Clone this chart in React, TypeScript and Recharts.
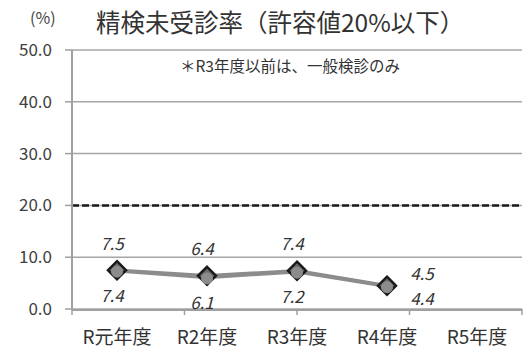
import { ComposedChart, Line, XAxis, YAxis, CartesianGrid, ReferenceLine, LabelList } from "recharts";

const categories = ["R元年度", "R2年度", "R3年度", "R4年度", "R5年度"];
const upperSeries = [7.5, 6.4, 7.4, 4.5, null];
const lowerSeries = [7.4, 6.1, 7.2, 4.4, null];
const yTicks = [0, 10, 20, 30, 40, 50];
const limitValue = 20;

const data = categories.map((name, i) => ({
  name,
  upper: upperSeries[i],
  lower: lowerSeries[i],
}));

const FONT = '"Noto Sans CJK JP", "Noto Sans", sans-serif';

function Diamond(props: any) {
  const { cx, cy, value } = props;
  if (value == null || cx == null) return null;
  const r = 9;
  return (
    <path
      d={`M${cx},${cy - r}L${cx + r},${cy}L${cx},${cy + r}L${cx - r},${cy}Z`}
      fill="#6b6b6b"
      stroke="#1a1a1a"
      strokeWidth={2.5}
    />
  );
}

function GreyDot(props: any) {
  const { cx, cy, value } = props;
  if (value == null || cx == null) return null;
  return <circle cx={cx} cy={cy + 1} r={5.5} fill="#8c8c8c" stroke="#8c8c8c" />;
}

function upperLabel(props: any) {
  const { x, y, value, index } = props;
  if (value == null) return null;
  const last = index === 3;
  return (
    <text
      x={last ? x + 35 : x - 5}
      y={last ? y - 13 : y - 28}
      textAnchor="middle"
      dominantBaseline="central"
      fontStyle="italic"
      fontSize={17}
      fill="#333"
      fontFamily={FONT}
    >
      {value.toFixed(1)}
    </text>
  );
}

function lowerLabel(props: any) {
  const { x, y, value, index } = props;
  if (value == null) return null;
  const last = index === 3;
  return (
    <text
      x={last ? x + 35 : x - 5}
      y={last ? y + 11 : y + 24}
      textAnchor="middle"
      dominantBaseline="central"
      fontStyle="italic"
      fontSize={17}
      fill="#333"
      fontFamily={FONT}
    >
      {value.toFixed(1)}
    </text>
  );
}

export default function App() {
  return (
    <div style={{ position: "absolute", left: 0, top: 0, width: 524, height: 349, background: "#fff", fontFamily: FONT }}>
      <div style={{ position: "absolute", left: 30, top: 5, fontSize: 16, color: "#444" }}>(%)</div>
      <div style={{ position: "absolute", left: 96, top: 4, fontSize: 24.5, lineHeight: "36px", color: "#333", whiteSpace: "nowrap" }}>
        精検未受診率（許容値20%以下）
      </div>
      <div style={{ position: "absolute", left: 180, top: 54, fontSize: 15.5, lineHeight: "22px", color: "#333", whiteSpace: "nowrap" }}>
        ＊R3年度以前は、一般検診のみ
      </div>
      <ComposedChart
        width={524}
        height={349}
        data={data}
        margin={{ top: 50, right: 2, bottom: 0, left: 0 }}
      >
        <CartesianGrid vertical={false} xAxisId="b" stroke="#a6a6a6" strokeWidth={1.5} />
        <XAxis
          xAxisId="a"
          type="number"
          domain={[0, categories.length]}
          ticks={[0, 1, 2, 3, 4, 5]}
          interval={0}
          axisLine={false}
          tickFormatter={() => ""}
          tickLine={{ stroke: "#a0a0a0", strokeWidth: 1.5 }}
          tickSize={6}
          height={1}
        />
        <XAxis
          xAxisId="b"
          dataKey="name"
          scale="band"
          axisLine={{ stroke: "#a0a0a0", strokeWidth: 2 }}
          tickLine={false}
          tick={{ fill: "#333", fontSize: 19, fontFamily: FONT }}
          tickMargin={15}
          height={39}
          interval={0}
        />
        <YAxis
          domain={[0, 50]}
          ticks={yTicks}
          tickFormatter={(v: number) => v.toFixed(1)}
          axisLine={{ stroke: "#a0a0a0", strokeWidth: 2 }}
          tickLine={{ stroke: "#a0a0a0", strokeWidth: 1.5 }}
          tickSize={7}
          tickMargin={13}
          width={72}
          tick={{ fill: "#404040", fontSize: 17, fontFamily: FONT }}
        />
        <ReferenceLine xAxisId="b" y={limitValue} stroke="#1a1a1a" strokeWidth={2.5} strokeDasharray="7 3" />
        <Line
          xAxisId="b"
          dataKey="upper"
          stroke="#8c8c8c"
          strokeWidth={3.5}
          dot={<Diamond />}
          isAnimationActive={false}
          connectNulls={false}
        >
          <LabelList dataKey="upper" content={upperLabel} />
        </Line>
        <Line
          xAxisId="b"
          dataKey="lower"
          stroke="#8c8c8c"
          strokeWidth={3.5}
          dot={<GreyDot />}
          isAnimationActive={false}
          connectNulls={false}
        >
          <LabelList dataKey="lower" content={lowerLabel} />
        </Line>
      </ComposedChart>
    </div>
  );
}
